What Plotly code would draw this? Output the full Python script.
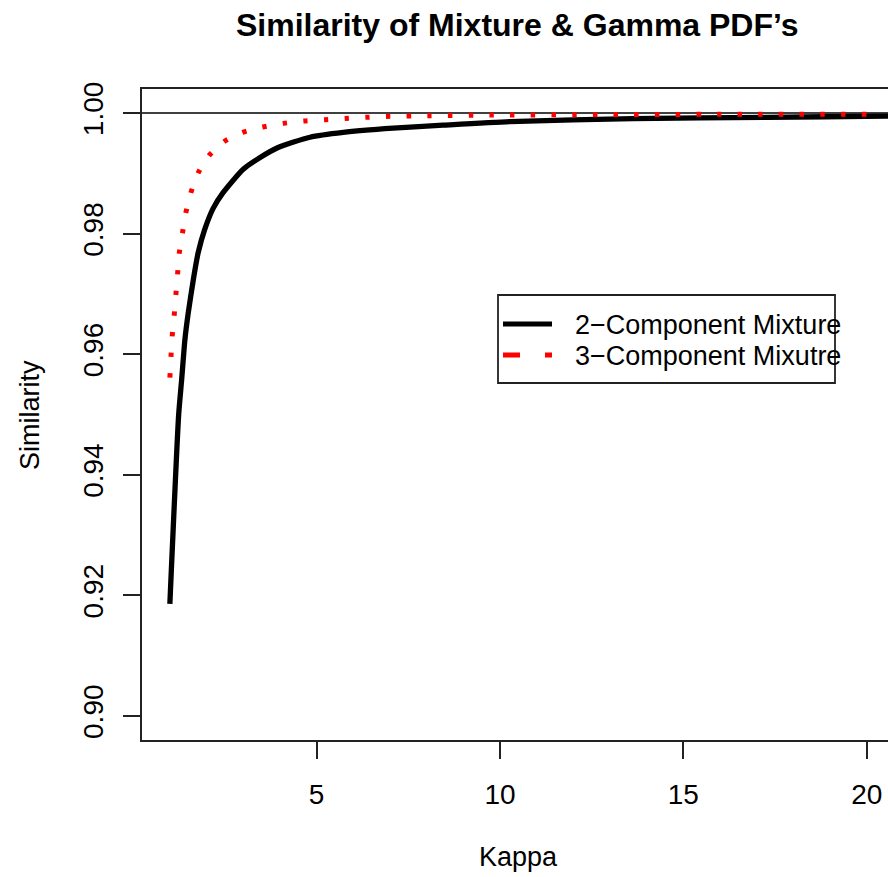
import plotly.graph_objects as go

# ---- data ----
kappa_2 = [1.00, 1.24, 1.32, 1.41, 1.50, 1.64, 1.77, 1.95, 2.18, 2.45, 3.00, 3.45, 3.95,
           4.82, 5.73, 7.09, 8.45, 10.27, 13.63, 17.27, 20.55, 21.00]
sim_2 = [0.9186, 0.9500, 0.9557, 0.9624, 0.9668, 0.9724, 0.9768, 0.9807, 0.9842, 0.9868,
         0.9907, 0.9926, 0.9943, 0.9960, 0.9968, 0.9975, 0.9980, 0.9986, 0.9991, 0.9993,
         0.9995, 0.9995]

kappa_3 = [1.000, 1.030, 1.063, 1.117, 1.164, 1.210, 1.254, 1.346, 1.436, 1.573, 1.772,
           2.072, 2.481, 2.983, 3.528, 4.09, 4.654, 5.219, 5.78, 6.345, 6.91, 8.036,
           9.727, 12.73, 16.0, 20.0]
sim_3 = [0.9561, 0.9596, 0.9630, 0.9664, 0.9699, 0.9733, 0.9767, 0.9802, 0.9835, 0.9868,
         0.9901, 0.9930, 0.9953, 0.9968, 0.9977, 0.9983, 0.9987, 0.9989, 0.9991, 0.9993,
         0.99945, 0.99957, 0.99967, 0.99975, 0.99980, 0.99983]

series_names = ["2\u2212Component Mixture", "3\u2212Component Mixutre"]
y_ticks = [0.90, 0.92, 0.94, 0.96, 0.98, 1.00]
x_ticks = [5, 10, 15, 20]
ref_level = 1.0

title = "Similarity of Mixture & Gamma PDF\u2019s"
x_title = "Kappa"
y_title = "Similarity"

# ---- layout geometry (pixels) ----
W, H = 888, 877
ML, MR, MT, MB = 142, 0, 89, 137
PW, PH = W - ML - MR, H - MT - MB
FONT = "Liberation Sans, Arial, Helvetica, sans-serif"
AX = "#222222"
FS_TICK = 28
FS_TXT = 27
FS_TITLE = 32


def px(x):
    return (x - ML) / PW


def py(y):
    return (H - MB - y) / PH


fig = go.Figure()
fig.add_trace(go.Scatter(x=kappa_2, y=sim_2, mode="lines", name=series_names[0],
                         line=dict(color="black", width=5.3, shape="spline", smoothing=0.6),
                         showlegend=False))
fig.add_trace(go.Scatter(x=kappa_3, y=sim_3, mode="lines", name=series_names[1],
                         line=dict(color="#ff0000", width=5, dash="4.5px,16.2px",
                                   shape="spline", smoothing=0.6),
                         showlegend=False))

shapes = [
    dict(type="line", xref="paper", yref="y", x0=0, x1=1, y0=ref_level, y1=ref_level,
         line=dict(color="black", width=1.5), layer="below"),
    # legend box
    dict(type="rect", xref="paper", yref="paper", x0=px(498), x1=px(835), y0=py(383), y1=py(295),
         line=dict(color=AX, width=1.8), fillcolor="white"),
    dict(type="line", xref="paper", yref="paper", x0=px(503), x1=px(552), y0=py(324), y1=py(324),
         line=dict(color="black", width=5)),
    dict(type="line", xref="paper", yref="paper", x0=px(503), x1=px(552), y0=py(355), y1=py(355),
         line=dict(color="#ff0000", width=5, dash="17px,25px")),
]

annotations = [
    dict(text=series_names[0], xref="paper", yref="paper", x=px(573), y=py(325),
         xanchor="left", yanchor="middle", showarrow=False,
         font=dict(size=FS_TXT, color="black", family=FONT)),
    dict(text=series_names[1], xref="paper", yref="paper", x=px(573), y=py(356),
         xanchor="left", yanchor="middle", showarrow=False,
         font=dict(size=FS_TXT, color="black", family=FONT)),
    dict(text=x_title, xref="paper", yref="paper", x=px(518), y=py(857),
         xanchor="center", yanchor="middle", showarrow=False,
         font=dict(size=FS_TXT, color="black", family=FONT)),
    dict(text=y_title, xref="paper", yref="paper", x=px(30), y=py(415), textangle=-90,
         xanchor="center", yanchor="middle", showarrow=False,
         font=dict(size=FS_TXT, color="black", family=FONT)),
    dict(text="<b>" + title + "</b>", xref="paper", yref="paper", x=px(517), y=py(25),
         xanchor="center", yanchor="middle", showarrow=False,
         font=dict(size=FS_TITLE, color="black", family=FONT)),
]

fig.update_layout(
    width=W, height=H, autosize=False,
    margin=dict(l=ML, r=MR, t=MT, b=MB, pad=0),
    paper_bgcolor="white", plot_bgcolor="white",
    font=dict(family=FONT, size=FS_TXT, color="black"),
    shapes=shapes, annotations=annotations, showlegend=False,
)
fig.update_xaxes(range=[0.24, 20.58], tickmode="array", tickvals=x_ticks,
                 ticktext=[str(v) for v in x_ticks],
                 ticks="outside", ticklen=17, tickwidth=1.8, tickcolor=AX,
                 showline=True, linecolor=AX, linewidth=1.8, mirror=True,
                 showgrid=False, zeroline=False, ticklabelstandoff=11,
                 tickfont=dict(size=FS_TICK, family=FONT, color="black"))
fig.update_yaxes(range=[0.896, 1.004], tickmode="array", tickvals=y_ticks,
                 ticktext=["%.2f" % v for v in y_ticks], tickangle=-90,
                 ticks="outside", ticklen=17, tickwidth=1.8, tickcolor=AX,
                 showline=True, linecolor=AX, linewidth=1.8, mirror=False,
                 showgrid=False, zeroline=False, ticklabelstandoff=9,
                 tickfont=dict(size=FS_TICK, family=FONT, color="black"))

fig.write_html("out.html")
